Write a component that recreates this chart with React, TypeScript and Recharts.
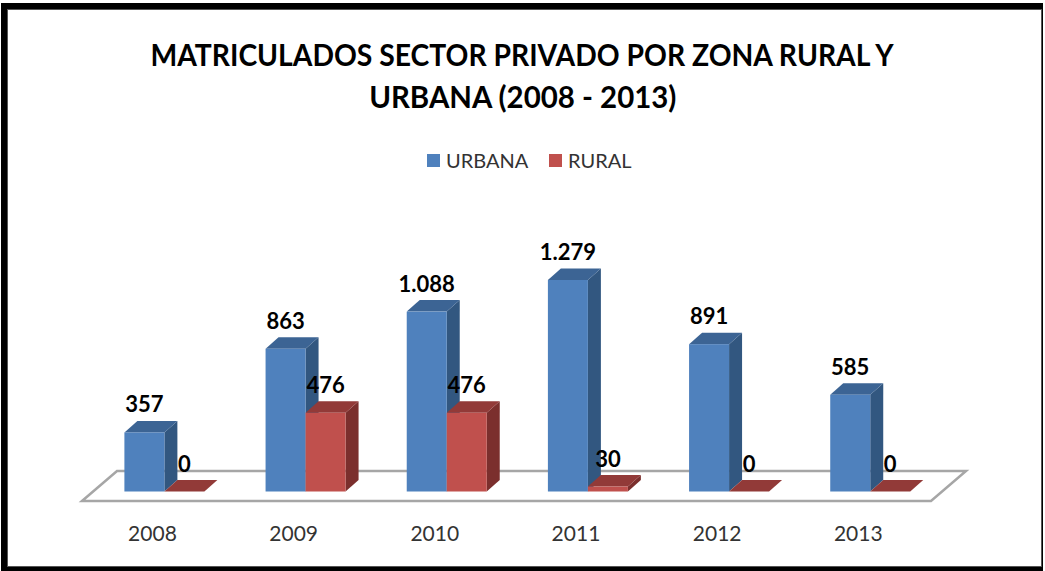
import { Bar, BarChart, LabelList, Legend, XAxis, YAxis } from "recharts";

const years = ["2008", "2009", "2010", "2011", "2012", "2013"];
const urbana = [357, 863, 1088, 1279, 891, 585];
const rural = [0, 476, 476, 30, 0, 0];

const rows = years.map((year, i) => ({ year, urbana: urbana[i], rural: rural[i] }));

const DX = 13;
const DY = 11.5;
const FONT = "Lato, sans-serif";

// front face plus the two extruded faces, so it reads like the excel 3d column
function Column3D({ x, y, width, height, front, side, top }: any) {
  return (
    <g>
      <polygon
        points={`${x + width},${y} ${x + width + DX},${y - DY} ${x + width + DX},${y + height - DY} ${x + width},${y + height}`}
        fill={side}
      />
      <polygon
        points={`${x},${y} ${x + DX},${y - DY} ${x + width + DX},${y - DY} ${x + width},${y}`}
        fill={top}
      />
      <rect x={x} y={y} width={width} height={height} fill={front} />
    </g>
  );
}

const fmt = (v: number) => v.toLocaleString("es-ES", { useGrouping: "always" } as any);

function LegendRow() {
  const items = [
    { name: "URBANA", color: "#4f81bd", left: 427 },
    { name: "RURAL", color: "#c0504d", left: 549 },
  ];
  return (
    <div style={{ position: "relative", height: 24, width: 1045 }}>
      {items.map((it) => (
        <div key={it.name} style={{ position: "absolute", left: it.left, top: 0, display: "flex", alignItems: "center", height: 24 }}>
          <span style={{ width: 13, height: 13, background: it.color, marginRight: 6 }} />
          <span style={{ fontFamily: FONT, fontSize: 20, color: "#333" }}>{it.name}</span>
        </div>
      ))}
    </div>
  );
}

const titleLine = (scale: number) => ({ display: "inline-block", whiteSpace: "nowrap", transform: `scaleX(${scale})` } as const);

export default function App() {
  return (
    <div style={{ position: "absolute", left: 0, top: 0, width: 1045, height: 571, background: "#fff", overflow: "hidden" }}>
      <BarChart
        width={1045}
        height={571}
        data={rows}
        margin={{ top: 236, right: 104.6, left: 93.4, bottom: 49.5 }}
        barSize={40}
        barGap={0}
      >
        <polygon points="82,501 117,471 966,471 931,501" fill="#fff" stroke="#a6a6a6" strokeWidth={2.5} />
        <XAxis
          dataKey="year"
          axisLine={false}
          tickLine={false}
          dy={27}
          dx={-11.5}
          tick={{ fill: "#333", fontSize: 21, fontFamily: FONT }}
        />
        <YAxis hide domain={[0, 1400]} />
        <Legend content={<LegendRow />} verticalAlign="top" wrapperStyle={{ left: 0, top: 148, width: 1045 }} />
        <Bar
          dataKey="urbana"
          isAnimationActive={false}
          fill="#4f81bd"
          shape={<Column3D front="#4f81bd" side="#325780" top="#3c6494" />}
        >
          <LabelList dataKey="urbana" position="top" offset={20} formatter={fmt} fill="#000" fontSize={22} fontWeight={700} fontFamily={FONT} />
        </Bar>
        <Bar
          dataKey="rural"
          isAnimationActive={false}
          fill="#c0504d"
          shape={<Column3D front="#c0504d" side="#7b2f2d" top="#923a38" />}
        >
          <LabelList dataKey="rural" position="top" offset={20} formatter={fmt} fill="#000" fontSize={22} fontWeight={700} fontFamily={FONT} />
        </Bar>
      </BarChart>
      <div style={{ position: "absolute", left: 0, top: 33, width: 1045, textAlign: "center", fontFamily: FONT, fontWeight: 700, fontSize: 30, lineHeight: "42px", color: "#000" }}>
        <span style={titleLine(0.943)}>MATRICULADOS SECTOR PRIVADO POR ZONA RURAL Y</span>
        <br />
        <span style={titleLine(0.98)}>URBANA (2008 - 2013)</span>
      </div>
      <div style={{ position: "absolute", left: 1, top: 3, width: 1042, height: 568, boxSizing: "border-box", borderStyle: "solid", borderColor: "#000", borderWidth: "6px 1px 4px 6px", boxShadow: "inset 0 0 0 1px #555" }} />
    </div>
  );
}
